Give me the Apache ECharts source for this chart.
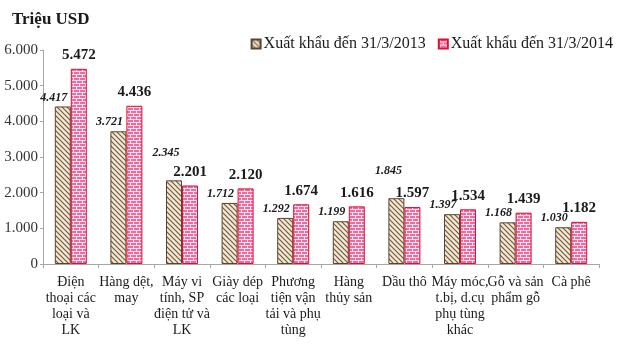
<!DOCTYPE html>
<html>
<head>
<meta charset="utf-8">
<script src="https://cdn.jsdelivr.net/npm/echarts@6/dist/echarts.min.js"></script>
<style>
  html, body {margin: 0; padding: 0; background: #fff;}
  #contain {width: 626px; height: 346px;}
</style>
</head>
<body>
<div id="contain"></div>
<script>
var categories = [
    'Điện\nthoại các\nloại và\nLK',
    'Hàng dệt,\nmay',
    'Máy vi\ntính, SP\nđiện tử và\nLK',
    'Giày dép\ncác loại',
    'Phương\ntiện vận\ntải và phụ\ntùng',
    'Hàng\nthủy sản',
    'Dầu thô',
    'Máy móc,\nt.bị, d.cụ\nphụ tùng\nkhác',
    'Gỗ và sản\nphẩm gỗ',
    'Cà phê'
];
var export2013 = [4417, 3721, 2345, 1712, 1292, 1199, 1845, 1397, 1168, 1030];
var export2014 = [5472, 4436, 2201, 2120, 1674, 1616, 1597, 1534, 1439, 1182];
var seriesNames = ['Xuất khẩu đến 31/3/2013', 'Xuất khẩu đến 31/3/2014'];

var serif = '"Liberation Serif", "DejaVu Serif", serif';

function fmt(v) {
    // dấu chấm phân cách hàng nghìn
    return String(v).replace(/\B(?=(\d{3})+(?!\d))/g, '.');
}

function hatchPattern() {
    var c = document.createElement('canvas');
    c.width = 5; c.height = 5;
    var ctx = c.getContext('2d');
    ctx.fillStyle = '#f3e8d6';
    ctx.fillRect(0, 0, 5, 5);
    ctx.strokeStyle = '#745a3e';
    ctx.lineWidth = 1.2;
    ctx.beginPath();
    ctx.moveTo(-1, -1); ctx.lineTo(6, 6);
    ctx.moveTo(-1, 4); ctx.lineTo(1, 6);
    ctx.moveTo(4, -1); ctx.lineTo(6, 1);
    ctx.stroke();
    return c;
}

function brickPattern() {
    var c = document.createElement('canvas');
    c.width = 6; c.height = 6;
    var ctx = c.getContext('2d');
    ctx.fillStyle = '#f06aa0';
    ctx.fillRect(0, 0, 6, 6);
    ctx.fillStyle = '#fde3ee';
    ctx.fillRect(0, 2, 6, 1);
    ctx.fillRect(0, 5, 6, 1);
    ctx.fillRect(1, 0, 1, 2);
    ctx.fillRect(4, 3, 1, 2);
    return c;
}

var myChart = echarts.init(document.getElementById('contain'));

var data2013 = export2013.map(function (v, i) {
    // hai nhãn được đẩy cao hơn như trong ảnh gốc
    if (i === 2 || i === 6) {
        return {value: v, label: {offset: [-8, -18]}};
    }
    return v;
});

var option = {
    animation: false,
    backgroundColor: '#ffffff',
    title: {
        text: 'Triệu USD',
        left: 7,
        top: 6,
        textStyle: {fontFamily: serif, fontSize: 17, fontWeight: 'bold', color: '#1a1a1a'}
    },
    legend: {
        right: 8,
        top: 31,
        itemWidth: 9,
        itemHeight: 9,
        itemGap: 12,
        icon: 'rect',
        textStyle: {fontFamily: serif, fontSize: 16, color: '#1a1a1a', padding: [0, 0, 0, -2]},
        data: seriesNames
    },
    grid: {left: 43, right: 27, top: 50, bottom: 82},
    xAxis: {
        type: 'category',
        data: categories,
        axisLine: {show: true, lineStyle: {color: '#a6a6a6'}},
        axisTick: {show: true, length: 4, lineStyle: {color: '#a6a6a6'}},
        axisLabel: {
            interval: 0,
            margin: 10,
            fontFamily: serif,
            fontSize: 14,
            lineHeight: 16,
            color: '#1a1a1a'
        }
    },
    yAxis: {
        type: 'value',
        min: 0,
        max: 6000,
        interval: 1000,
        axisLine: {show: true, lineStyle: {color: '#a6a6a6'}},
        axisTick: {show: true, length: 3, lineStyle: {color: '#a6a6a6'}},
        splitLine: {show: false},
        axisLabel: {
            margin: 5,
            fontFamily: serif,
            fontSize: 15,
            color: '#333',
            formatter: function (v) { return fmt(v); }
        }
    },
    series: [
        {
            name: seriesNames[0],
            type: 'bar',
            barWidth: 16,
            barGap: '0%',
            data: data2013,
            itemStyle: {
                color: {image: hatchPattern(), repeat: 'repeat'},
                borderColor: '#5a4430',
                borderWidth: 1
            },
            label: {
                show: true,
                position: 'top',
                distance: 3,
                offset: [-9, 0],
                fontFamily: serif,
                fontSize: 12,
                fontStyle: 'italic',
                fontWeight: 'bold',
                color: '#1a1a1a',
                formatter: function (p) { return fmt(p.value); }
            }
        },
        {
            name: seriesNames[1],
            type: 'bar',
            barWidth: 16,
            data: export2014,
            itemStyle: {
                color: {image: brickPattern(), repeat: 'repeat'},
                borderColor: '#e01030',
                borderWidth: 1
            },
            label: {
                show: true,
                position: 'top',
                distance: 6,
                fontFamily: serif,
                fontSize: 15,
                fontWeight: 'bold',
                color: '#1a1a1a',
                formatter: function (p) { return fmt(p.value); }
            }
        }
    ]
};
myChart.setOption(option, true);
</script>
</body>
</html>
